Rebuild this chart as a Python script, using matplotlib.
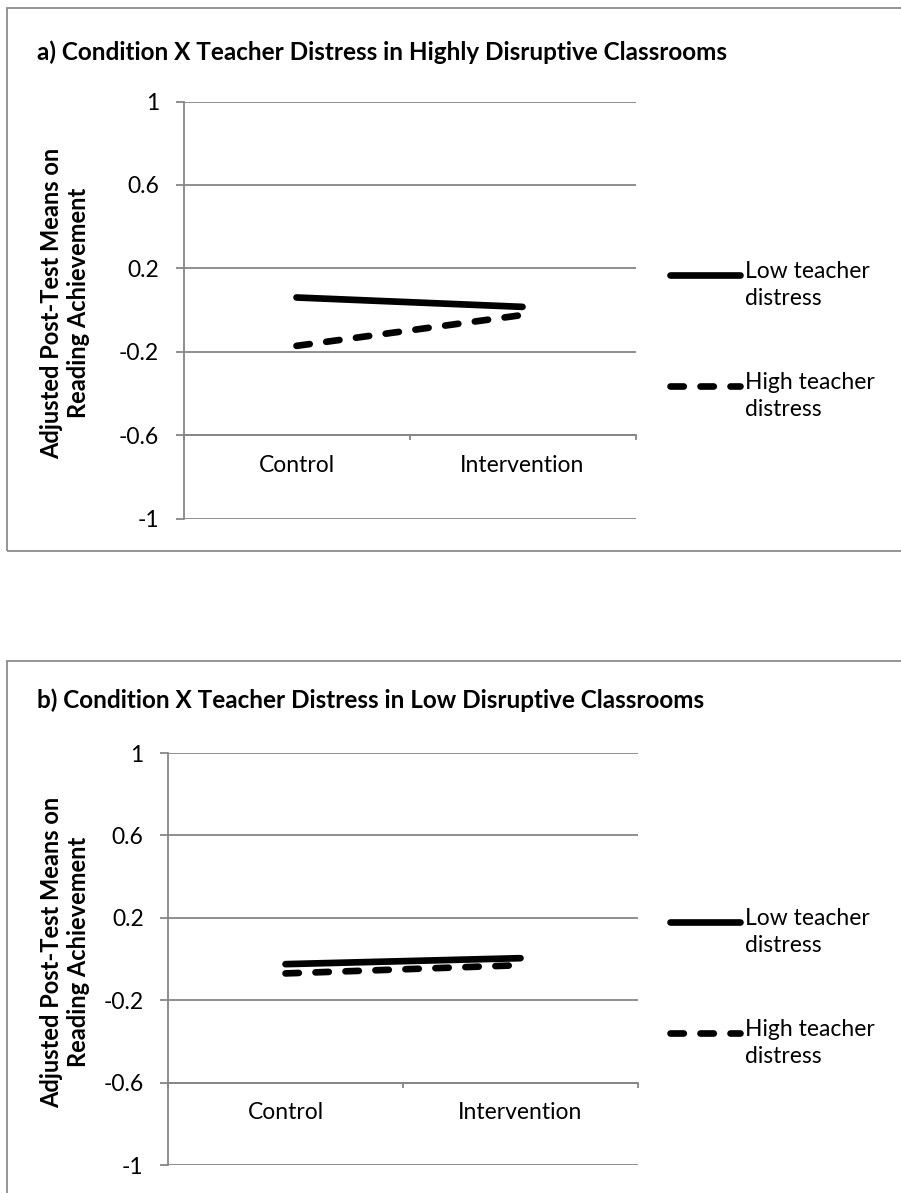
import matplotlib
matplotlib.use("Agg")
import matplotlib.pyplot as plt
from matplotlib.patches import Rectangle
from matplotlib.lines import Line2D

plt.rcParams['font.family'] = ['Lato', 'DejaVu Sans']

# data
conditions = ["Control", "Intervention"]
series_names = ["Low teacher\ndistress", "High teacher\ndistress"]
titles = ["a) Condition X Teacher Distress in Highly Disruptive Classrooms",
          "b) Condition X Teacher Distress in Low Disruptive Classrooms"]
a_low = [0.06, 0.015]
a_high = [-0.172, -0.024]
b_low = [-0.025, 0.004]
b_high = [-0.07, -0.03]
yticks = [-1, -0.6, -0.2, 0.2, 0.6, 1]
ylabel = "Adjusted Post-Test Means on\nReading Achievement"

W, H = 901, 1193
fig = plt.figure(figsize=(W / 100, H / 100), dpi=100)
grey = "#868686"


def rect(left, top, right, bottom):
    return [left / W, 1 - bottom / H, (right - left) / W, (bottom - top) / H]


def panel(box_top, box_bottom, plot_box, title_y, lab_y, leg_y, low, high, title):
    fig.add_artist(Rectangle((7 / W, 1 - box_bottom / H), 1.0, (box_bottom - box_top) / H,
                             transform=fig.transFigure, fill=False,
                             edgecolor="#8c8c8c", lw=1.3))
    fig.text(37 / W, 1 - title_y / H, title, fontsize=17.5, fontweight="bold",
             va="center", ha="left")
    fig.text(65 / W, 1 - lab_y / H, ylabel, fontsize=17, fontweight="bold",
             rotation=90, va="center", ha="center", linespacing=1.2)

    ax = fig.add_axes(rect(*plot_box))
    x = [0.5, 1.5]
    ax.plot(x, low, color="black", lw=4.8, solid_capstyle="round")
    ax.plot(x, high, color="black", lw=4.8, dashes=(2.0, 2.5),
            dash_capstyle="round")
    ax.set_xlim(0, 2)
    ax.set_ylim(-1, 1)
    ax.set_yticks(yticks)
    ax.set_yticklabels([f"{v:g}" for v in yticks])
    ax.grid(axis="y", color=grey, lw=1.3)
    ax.set_axisbelow(True)
    for s in ["top", "right"]:
        ax.spines[s].set_visible(False)
    ax.spines["left"].set_color(grey)
    ax.spines["left"].set_linewidth(1.3)
    ax.spines["bottom"].set_position(("data", -0.6))
    ax.spines["bottom"].set_color(grey)
    ax.spines["bottom"].set_linewidth(1.3)
    ax.tick_params(axis="y", direction="out", length=5.5, width=1.3, color=grey,
                   labelsize=16.5, pad=12)
    ax.set_xticks([0, 1, 2])
    ax.set_xticklabels([])
    ax.tick_params(axis="x", which="major", direction="out", length=3.5,
                   width=1.3, color=grey)
    ax.set_xticks(x, minor=True)
    ax.set_xticklabels(conditions, minor=True)
    ax.tick_params(axis="x", which="minor", length=0, labelsize=16.5, pad=14)

    # legend drawn by hand so the sample sits on the first text line
    for i, (name, style) in enumerate(zip(series_names, [None, (2.0, 2.5)])):
        yy = 1 - (leg_y + i * 111) / H
        ln = Line2D([670 / W, 740 / W], [yy, yy], transform=fig.transFigure,
                    color="black", lw=4.8, solid_capstyle="round",
                    dash_capstyle="round")
        if style:
            ln.set_dashes(style)
        fig.add_artist(ln)
        fig.text(745 / W, yy + 14 / H, name, fontsize=16.5, va="top", ha="left",
                 linespacing=1.35)
    return ax


panel(8, 551, (183.5, 101.5, 635.5, 518.5), 52, 303, 275, a_low, a_high, titles[0])
panel(661, 1230, (168, 753, 638, 1165), 700, 952, 922, b_low, b_high, titles[1])

fig.savefig("out.png", dpi=100)
